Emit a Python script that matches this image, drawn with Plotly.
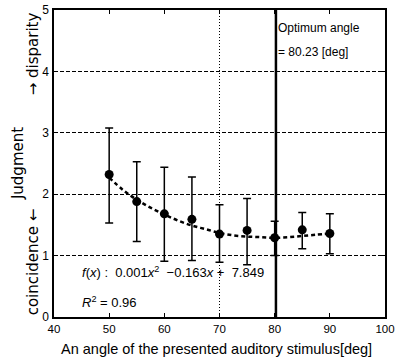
import plotly.graph_objects as go

angles = [50, 55, 60, 65, 70, 75, 80, 85, 90]
judgment = [2.32, 1.88, 1.68, 1.59, 1.35, 1.41, 1.29, 1.42, 1.36]
err_upper = [3.08, 2.53, 2.44, 2.28, 1.83, 1.93, 1.56, 1.70, 1.68]
err_lower = [1.53, 1.23, 0.91, 0.92, 0.89, 0.85, 1.00, 1.11, 1.03]

fit_x = [50, 52.5, 55, 57.5, 60, 62.5, 65, 67.5, 70, 72.5, 75, 77.5, 80, 82.5, 85, 87.5, 90]
fit_y = [2.27, 2.07, 1.91, 1.78, 1.67, 1.57, 1.49, 1.43, 1.37, 1.33, 1.31, 1.30, 1.29, 1.30, 1.32, 1.34, 1.36]

optimum_angle = 80.23
x_ticks = [40, 50, 60, 70, 80, 90, 100]
y_ticks = [0, 1, 2, 3, 4, 5]

FONT = "Arial, Liberation Sans, sans-serif"
WIDE = "DejaVu Sans, sans-serif"

fig = go.Figure()

fig.add_trace(go.Scatter(
    x=fit_x, y=fit_y, mode="lines", line=dict(color="black", width=2.5, dash="4px,3px", shape="spline"),
    showlegend=False, hoverinfo="skip"))

fig.add_trace(go.Scatter(
    x=angles, y=judgment, mode="markers",
    marker=dict(color="black", size=9),
    error_y=dict(type="data", symmetric=False,
                 array=[u - m for u, m in zip(err_upper, judgment)],
                 arrayminus=[m - l for m, l in zip(judgment, err_lower)],
                 color="black", thickness=1.5, width=4),
    showlegend=False))

# dotted vertical grid at 70
fig.add_shape(type="line", x0=70, x1=70, y0=0, y1=5, xref="x", yref="y",
              line=dict(color="black", width=1, dash="1px,2px"), layer="below")
# optimum angle line
fig.add_shape(type="line", x0=optimum_angle, x1=optimum_angle, y0=0, y1=5, xref="x", yref="y",
              line=dict(color="black", width=2.5))

fig.add_annotation(x=optimum_angle, y=4.71, xref="x", yref="y", xanchor="left", showarrow=False,
                   text="Optimum angle", font=dict(family=FONT, size=12, color="black"))
fig.add_annotation(x=optimum_angle, y=4.32, xref="x", yref="y", xanchor="left", showarrow=False,
                   text="= 80.23 [deg]", font=dict(family=FONT, size=12, color="black"))
fig.add_annotation(x=44.8, y=0.74, xref="x", yref="y", xanchor="left", showarrow=False,
                   text="<i>f</i>(<i>x</i>) :  0.001<i>x</i><sup>2</sup>  \u22120.163<i>x</i> +  7.849",
                   font=dict(family=FONT, size=13, color="black"))
fig.add_annotation(x=44.8, y=0.24, xref="x", yref="y", xanchor="left", showarrow=False,
                   text="<i>R</i><sup>2</sup> = 0.96",
                   font=dict(family=FONT, size=13, color="black"))

# x-axis title
fig.add_annotation(x=0.49, y=-0.104, xref="paper", yref="paper", xanchor="center", yanchor="middle",
                   showarrow=False,
                   text="An angle of the presented auditory stimulus[deg]",
                   font=dict(family=FONT, size=14.5, color="black"))

# y-axis titles (rotated)
fig.add_annotation(x=-0.11, y=0.5, xref="paper", yref="paper", xanchor="center", yanchor="middle",
                   showarrow=False, textangle=-90,
                   text="Judgment", font=dict(family=WIDE, size=15, color="black"))
fig.add_annotation(x=-0.064, y=0.0, xref="paper", yref="paper", xanchor="center", yanchor="bottom",
                   showarrow=False, textangle=-90,
                   text="coincidence \u2190", font=dict(family=WIDE, size=15, color="black"))
fig.add_annotation(x=-0.064, y=1.0, xref="paper", yref="paper", xanchor="center", yanchor="top",
                   showarrow=False, textangle=-90,
                   text="\u2192 disparity", font=dict(family=WIDE, size=15, color="black"))

fig.update_layout(
    width=395, height=359,
    margin=dict(l=54, r=10, t=10, b=42, autoexpand=False),
    paper_bgcolor="white", plot_bgcolor="white",
    font=dict(family=FONT, size=12, color="black"),
    xaxis=dict(range=[40, 100], tickvals=x_ticks, showgrid=False, zeroline=False, automargin=False,
               showline=True, linecolor="black", linewidth=1.5, mirror="ticks",
               ticks="inside", ticklen=4, tickcolor="black", ticklabeloverflow="allow",
               tickfont=dict(family=FONT, size=11.5)),
    yaxis=dict(range=[0, 5], tickvals=y_ticks, showgrid=True, gridcolor="black", griddash="4px,2px",
               gridwidth=1, zeroline=False, automargin=False,
               showline=True, linecolor="black", linewidth=1.5, mirror="ticks",
               ticks="inside", ticklen=4, tickcolor="black", ticklabelstandoff=1,
               ticklabeloverflow="allow"),
)

fig.write_html("out.html", config={"displayModeBar": False},
               post_script="document.body.style.margin='0';")
